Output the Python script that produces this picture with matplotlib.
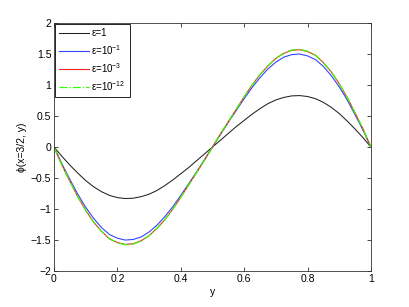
import numpy as np
import matplotlib
matplotlib.use("Agg")
import matplotlib.pyplot as plt

plt.rcParams["font.family"] = ["Liberation Sans", "DejaVu Sans"]
plt.rcParams["mathtext.fontset"] = "custom"
plt.rcParams["mathtext.rm"] = "Liberation Sans"

# sample positions (y) for the first half
y_half = [0.0, 0.025, 0.05, 0.075, 0.1, 0.125, 0.15, 0.175, 0.2, 0.225, 0.25,
          0.275, 0.3, 0.325, 0.35, 0.375, 0.4, 0.425, 0.45, 0.475, 0.5]

phi_eps1 = [0.0, -0.15, -0.29, -0.42, -0.54, -0.64, -0.72, -0.78, -0.815, -0.83, -0.825,
            -0.80, -0.76, -0.70, -0.62, -0.53, -0.43, -0.33, -0.22, -0.11, 0.0]
phi_eps1e1 = [0.0, -0.27, -0.52, -0.76, -0.97, -1.15, -1.30, -1.41, -1.47, -1.50, -1.49,
              -1.45, -1.37, -1.26, -1.12, -0.96, -0.78, -0.59, -0.40, -0.20, 0.0]
phi_eps1e3 = [0.0, -0.29, -0.55, -0.80, -1.02, -1.21, -1.36, -1.48, -1.54, -1.57, -1.56,
              -1.51, -1.43, -1.31, -1.17, -1.00, -0.81, -0.61, -0.41, -0.21, 0.0]
phi_eps1e12 = [0.0, -0.29, -0.55, -0.80, -1.02, -1.21, -1.36, -1.48, -1.545, -1.575, -1.565,
               -1.515, -1.43, -1.31, -1.17, -1.00, -0.81, -0.61, -0.41, -0.21, 0.0]

labels = ["ε=1", "ε=10$^{-1}$", "ε=10$^{-3}$", "ε=10$^{-12}$"]
colors = ["#222222", "#3344ff", "#ff2222", "#33ff00"]
styles = ["-", "-", "-", "-."]
widths = [0.75, 0.8, 0.8, 0.9]

xticks = [0, 0.2, 0.4, 0.6, 0.8, 1]
xticklabels = ["0", "0.2", "0.4", "0.6", "0.8", "1"]
yticks = [-2, -1.5, -1, -0.5, 0, 0.5, 1, 1.5, 2]
yticklabels = ["\u22122", "\u22121.5", "\u22121", "\u22120.5", "0", "0.5", "1", "1.5", "2"]


def full_curve(half):
    # the curve is odd about y = 0.5: phi(1 - y) = -phi(y)
    yh = np.array(y_half)
    vh = np.array(half)
    y = np.concatenate([yh, 1 - yh[-2::-1]])
    v = np.concatenate([vh, -vh[-2::-1]])
    return y, v


fig = plt.figure(figsize=(4.09, 3.07), dpi=100)
ax = fig.add_axes([0.132, 0.117, 0.775, 0.808])

for half, lab, c, ls, lw in zip([phi_eps1, phi_eps1e1, phi_eps1e3, phi_eps1e12],
                                labels, colors, styles, widths):
    y, v = full_curve(half)
    ax.plot(y, v, color=c, linestyle=ls, linewidth=lw, label=lab)

ax.set_xlim(0, 1)
ax.set_ylim(-2, 2)
ax.set_xticks(xticks)
ax.set_xticklabels(xticklabels)
ax.set_yticks(yticks)
ax.set_yticklabels(yticklabels)
ax.tick_params(direction="in", top=True, right=True, labelsize=7.5,
               length=3, width=0.5, pad=2)
for s in ax.spines.values():
    s.set_linewidth(0.6)
    s.set_color("#333333")

ax.set_xlabel("y", fontsize=7.5, labelpad=2)
ax.set_ylabel("ϕ(x=3/2, y)", fontsize=7.5, labelpad=3)

leg = ax.legend(loc="upper left", fontsize=7, frameon=True, fancybox=False,
                edgecolor="black", framealpha=1, borderaxespad=0.15,
                handlelength=3.0, handletextpad=0.3, labelspacing=0.45,
                borderpad=0.4)
leg.get_frame().set_linewidth(0.6)

fig.savefig("out.png", dpi=100)
